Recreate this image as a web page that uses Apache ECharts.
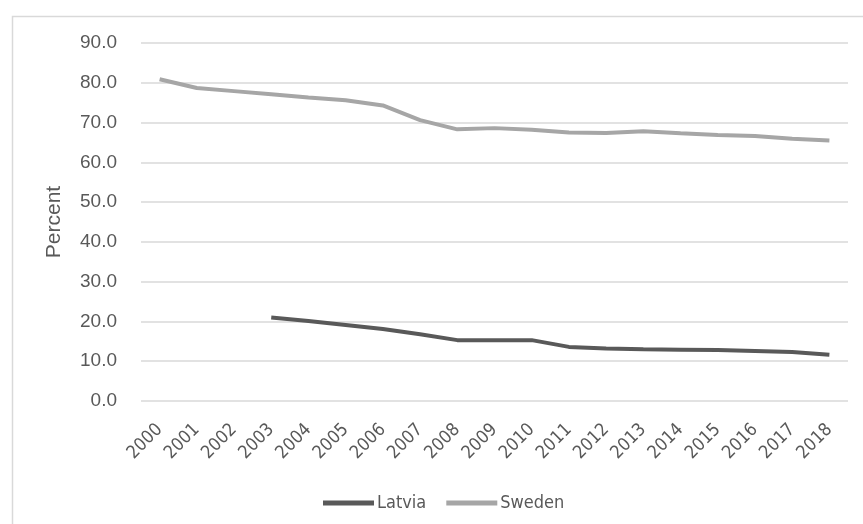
<!DOCTYPE html>
<html>
<head>
<meta charset="utf-8">
<script src="https://cdn.jsdelivr.net/npm/echarts@6/dist/echarts.min.js"></script>
<style>
  html, body { margin: 0; padding: 0; background: #ffffff; }
  #chart { width: 863px; height: 524px; }
</style>
</head>
<body>
<div id="chart"></div>
<script>
// Years on the category axis
const years = ['2000','2001','2002','2003','2004','2005','2006','2007','2008','2009',
               '2010','2011','2012','2013','2014','2015','2016','2017','2018'];

// Share in percent by country (null = no data)
const latvia = [null, null, null, 21.0, 20.1, 19.1, 18.1, 16.8, 15.3, 15.3,
                15.3, 13.6, 13.2, 13.0, 12.9, 12.8, 12.6, 12.3, 11.6];
const sweden = [80.9, 78.7, 77.9, 77.1, 76.3, 75.6, 74.3, 70.6, 68.3, 68.6,
                68.2, 67.5, 67.4, 67.8, 67.3, 66.9, 66.6, 65.9, 65.5];

// Value axis ticks
const yMin = 0, yMax = 90, yStep = 10;

const textColor = '#595959';
const chart = echarts.init(document.getElementById('chart'), null, { renderer: 'canvas' });

chart.setOption({
  backgroundColor: '#ffffff',
  animation: false,
  graphic: [{
    type: 'rect',
    shape: { x: 12.5, y: 16.5, width: 870, height: 520 },
    style: { fill: 'none', stroke: '#d9d9d9', lineWidth: 1.5 },
    silent: true,
    z: -1
  }],
  grid: { left: 141, right: 15, top: 43, bottom: 123, containLabel: false },
  legend: {
    bottom: 7,
    left: 318,
    itemWidth: 51,
    itemHeight: 5,
    itemGap: 20,
    icon: 'rect',
    textStyle: { color: textColor, fontSize: 18, fontFamily: 'DejaVu Sans Condensed', padding: [0, 0, 0, -2] },
    data: ['Latvia', 'Sweden']
  },
  xAxis: {
    type: 'category',
    data: years,
    boundaryGap: true,
    axisLine: { show: false },
    axisTick: { show: false },
    axisLabel: {
      rotate: 45,
      color: textColor,
      fontSize: 18,
      fontFamily: 'DejaVu Sans Condensed',
      margin: 26,
      interval: 0
    }
  },
  yAxis: {
    type: 'value',
    min: yMin,
    max: yMax,
    interval: yStep,
    name: 'Percent',
    nameLocation: 'middle',
    nameGap: 76,
    nameRotate: 90,
    nameTextStyle: { color: textColor, fontSize: 21, fontFamily: 'Liberation Sans' },
    axisLine: { show: false },
    axisTick: { show: false },
    axisLabel: {
      color: textColor,
      fontSize: 19,
      fontFamily: 'Liberation Sans',
      margin: 24,
      formatter: v => v.toFixed(1)
    },
    splitLine: { lineStyle: { color: '#d9d9d9', width: 1.5 } }
  },
  series: [
    {
      name: 'Latvia',
      type: 'line',
      data: latvia,
      symbol: 'none',
      connectNulls: false,
      lineStyle: { color: '#595959', width: 4 },
      itemStyle: { color: '#595959' }
    },
    {
      name: 'Sweden',
      type: 'line',
      data: sweden,
      symbol: 'none',
      lineStyle: { color: '#a6a6a6', width: 4 },
      itemStyle: { color: '#a6a6a6' }
    }
  ]
});
</script>
</body>
</html>
